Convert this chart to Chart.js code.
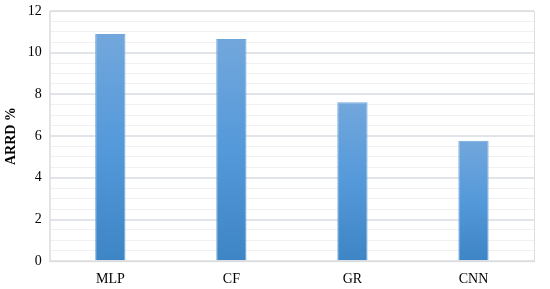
<!DOCTYPE html>
<html>
<head>
<meta charset="utf-8">
<script src="https://cdn.jsdelivr.net/npm/chart.js@4"></script>
<style>
  html, body { margin: 0; padding: 0; background: #fff; }
  #wrap { width: 550px; height: 289px; }
</style>
</head>
<body>
<div id="wrap"><canvas id="arrdChart" width="550" height="289"></canvas></div>
<script>
const categories = ['MLP', 'CF', 'GR', 'CNN'];
const arrdValues = [10.9, 10.66, 7.62, 5.78];
const yTicks = [0, 2, 4, 6, 8, 10, 12];

function barGradient(context) {
  const chart = context.chart;
  const { ctx, chartArea, scales } = chart;
  if (!chartArea || context.parsed == null) return '#5b9bd5';
  const top = scales.y.getPixelForValue(context.parsed.y);
  const bottom = scales.y.getPixelForValue(0);
  const g = ctx.createLinearGradient(0, top, 0, bottom);
  g.addColorStop(0, '#72a7dc');
  g.addColorStop(0.5, '#5499da');
  g.addColorStop(1, '#3e85c6');
  return g;
}

const ctx = document.getElementById('arrdChart').getContext('2d');
const arrdChart = new Chart(ctx, {
  type: 'bar',
  data: {
    labels: categories,
    datasets: [{
      label: 'ARRD %',
      data: arrdValues,
      backgroundColor: barGradient,
      borderColor: '#6ea6dc',
      borderWidth: 1,
      barPercentage: 0.25,
      categoryPercentage: 1
    }]
  },
  options: {
    responsive: false,
    animation: false,
    layout: { padding: { top: 0, right: 16, bottom: -9, left: 0 } },
    plugins: {
      legend: { display: false },
      tooltip: { enabled: false }
    },
    scales: {
      x: {
        grid: { display: false, drawTicks: false },
        border: { color: '#d9d9d9' },
        ticks: {
          color: '#000',
          padding: 10,
          font: { family: 'Liberation Serif', size: 14 }
        }
      },
      y: {
        min: 0,
        max: 12,
        border: { color: '#e6e6e6' },
        afterFit: s => { s.paddingTop = 11; },
        grid: {
          drawTicks: false,
          color: c => (c.tick && c.tick.value % 2 === 0) ? '#e1e4e8' : '#f0f0f0',
          lineWidth: c => (c.tick && c.tick.value % 2 === 0) ? 2 : 1
        },
        ticks: {
          stepSize: 0.5,
          autoSkip: false,
          padding: 8,
          color: '#000',
          font: { family: 'Liberation Serif', size: 14 },
          callback: v => yTicks.includes(v) ? v : ''
        },
        title: {
          display: true,
          text: 'ARRD %',
          color: '#000',
          padding: { top: 3, bottom: 0 },
          font: { family: 'Liberation Serif', size: 14, weight: 'bold' }
        }
      }
    }
  },
  plugins: [{
    id: 'plotBox',
    afterDraw(chart) {
      const { ctx, chartArea: a } = chart;
      ctx.save();
      ctx.strokeStyle = '#dedede';
      ctx.lineWidth = 1;
      ctx.strokeRect(a.left + 0.5, a.top + 0.5, a.right - a.left, a.bottom - a.top);
      ctx.restore();
    }
  }]
});
</script>
</body>
</html>
